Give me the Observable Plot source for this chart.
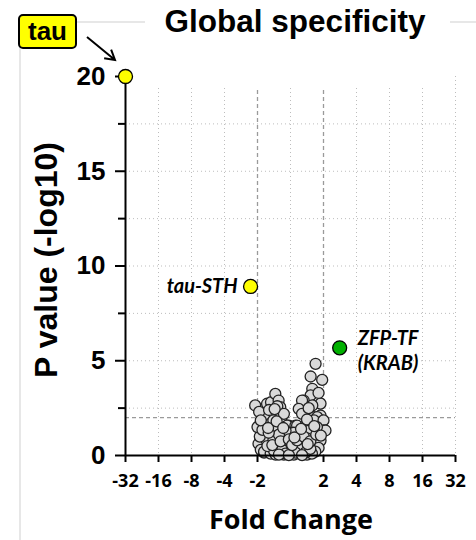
<!DOCTYPE html>
<html>
<head>
<meta charset="utf-8">
<script src="https://cdn.jsdelivr.net/npm/d3@7"></script>
<script src="https://cdn.jsdelivr.net/npm/@observablehq/plot@0.6"></script>
<style>
  html, body { margin: 0; padding: 0; background: #fff; }
  #chart { width: 476px; height: 540px; }
</style>
</head>
<body>
<div id="chart"></div>
<script>
// ---- data (x: log2 fold change, y: -log10 P) ----
const grayX = [
  -1.07,-0.71,-0.59,-0.46,-0.36,-0.31,-0.86,-0.72,-0.46,-0.87,-0.62,-0.52,-0.26,-0.77,-0.46,-0.97,-0.76,-0.72,-0.52,-0.36,-0.62,-0.16,-0.56,-0.93,-1.00,-0.95,-0.65,-0.40,-0.20,-0.90,-0.80,
  -0.05,-0.10,0.15,0.20,0.00,0.00,0.30,-0.20,0.10,-0.15,-0.35,0.25,0.15,-0.10,-0.40,
  0.76,0.61,0.96,0.66,0.61,0.40,0.35,0.91,0.66,0.25,0.45,0.35,0.91,0.71,0.81,0.45,0.71,1.00,1.00,1.06,0.66,0.70,0.66,0.91,0.80,0.55,0.50,0.35,0.85,0.75,0.55,0.85,0.50,
  -0.80,-0.60,-0.45,-0.30,-0.20,-0.10,0.00,0.10,0.20,0.30,0.40,0.50,0.55,-0.50,-0.25,0.05,0.25,0.65,-0.70,-0.15,0.15,0.45,-0.35,0.60,-0.05,0.35,
  -0.85,-0.66,-0.55,-0.30,-0.05,0.05,0.20,0.40,0.60,0.78,-0.90,-0.68,-0.42,-0.22,0.12,0.32,0.52,0.72,0.92,-0.48
];
const grayY = [
  2.64,2.73,2.81,3.25,2.90,2.55,2.11,2.11,2.11,1.67,1.67,1.85,1.76,1.23,1.32,0.62,0.90,0.79,0.79,0.35,0.35,0.44,0.37,1.00,1.50,2.30,2.40,2.60,2.20,0.30,0.15,
  1.58,1.58,1.58,1.58,1.06,0.44,1.16,1.00,1.20,1.30,1.10,0.90,0.60,0.70,0.50,
  4.84,4.17,3.99,3.52,3.17,2.90,2.90,2.74,2.64,2.46,2.20,2.20,2.11,2.02,2.02,1.58,1.85,1.85,1.32,1.32,1.06,1.16,0.53,0.79,1.50,1.30,0.90,0.70,0.40,0.20,2.50,3.30,1.90,
  0.20,0.10,0.05,0.15,0.05,0.25,0.10,0.05,0.20,0.10,0.30,0.05,0.20,0.25,0.30,0.35,0.40,0.10,0.50,0.10,0.15,0.15,0.05,0.35,0.02,0.02,
  1.35,1.20,0.55,0.75,0.85,0.55,0.80,1.00,0.75,1.10,1.85,1.45,1.80,1.45,0.95,1.40,0.60,1.55,1.05,2.45
];
const highlightNames = ["tau", "tau-STH", "ZFP-TF"];
const highlightX = [-5, -1.21, 1.49];
const highlightY = [20, 8.92, 5.68];
const highlightColors = ["#ffff00", "#ffff00", "#00b000"];
const labelNames = ["tau-STH", "ZFP-TF", "(KRAB)"];
const labelX = [-1.21, 1.49, 1.49];
const labelY = [8.92, 5.68, 5.68];

const xTickValues = [-5,-4,-3,-2,-1,1,2,3,4,5];
const xTickLabels = ["-32","-16","-8","-4","-2","2","4","8","16","32"];
const yTickValues = [0,5,10,15,20];
const yMinorTicks = [2.5,7.5,12.5,17.5];
const xGrid = [-4,-3,-2,0,2,3,4,5];
const yGrid = [2.5,5,7.5,10,12.5,15,17.5];
const thresholdX = [-1, 1];
const thresholdY = [2];

const gray = grayX.map((x, i) => ({x, y: grayY[i]}));
const highlights = highlightNames.map((n, i) => ({name: n, x: highlightX[i], y: highlightY[i], color: highlightColors[i]}));
const labels = labelNames.map((n, i) => ({name: n, x: labelX[i], y: labelY[i]}));
const xLabelOf = new Map(xTickValues.map((v, i) => [v, xTickLabels[i]]));

const calib = "'Open Sans', Lato, sans-serif";
const calibI = "Lato, 'Open Sans', sans-serif";
const arial = "'Liberation Sans', Arial, sans-serif";

const plot = Plot.plot({
  width: 476,
  height: 540,
  marginLeft: 125,
  marginRight: 21,
  marginTop: 76,
  marginBottom: 85,
  style: {background: "transparent", overflow: "visible"},
  x: {domain: [-5, 5]},
  y: {domain: [0, 20]},
  marks: [
    Plot.ruleX(xGrid, {stroke: "#bdbdbd", strokeWidth: 1, strokeDasharray: "1,3"}),
    Plot.ruleY(yGrid, {stroke: "#bdbdbd", strokeWidth: 1, strokeDasharray: "1,3"}),
    Plot.ruleX(thresholdX, {stroke: "#9a9a9a", strokeWidth: 1.3, strokeDasharray: "4,3"}),
    Plot.ruleY(thresholdY, {stroke: "#9a9a9a", strokeWidth: 1.3, strokeDasharray: "4,3"}),
    Plot.dot(gray, {x: "x", y: "y", r: 5.5, fill: "#d9d9d9", stroke: "#222", strokeWidth: 1.3}),
    Plot.ruleY([0], {stroke: "#000", strokeWidth: 2}),
    Plot.ruleX([-5], {stroke: "#000", strokeWidth: 2}),
    Plot.axisX(xTickValues, {tickSize: 7, strokeWidth: 2, tickPadding: 12, tickFormat: d => xLabelOf.get(d),
      fontSize: 18, fontWeight: "bold", fontFamily: calib, fill: "#000", label: null}),
    Plot.axisY(yTickValues, {tickSize: 10, strokeWidth: 2, tickPadding: 10, tickFormat: d => String(d),
      fontSize: 26, fontWeight: "bold", fontFamily: arial, fill: "#000", label: null}),
    Plot.axisY(yMinorTicks, {tickSize: 7, strokeWidth: 2, tickFormat: () => "", label: null}),
    Plot.dot(highlights, {x: "x", y: "y", r: 7, fill: "color", stroke: "#000", strokeWidth: 1.3}),
    Plot.text(labels.filter(d => d.name === "tau-STH"), {x: "x", y: "y", text: "name", textAnchor: "end", dx: -13,
      fontSize: 20, fontWeight: "bold", fontStyle: "italic", fontFamily: calibI, fill: "#000"}),
    Plot.text(labels.filter(d => d.name === "ZFP-TF"), {x: "x", y: "y", text: "name", textAnchor: "start", dx: 18, dy: -9,
      fontSize: 20, fontWeight: "bold", fontStyle: "italic", fontFamily: calibI, fill: "#000"}),
    Plot.text(labels.filter(d => d.name === "(KRAB)"), {x: "x", y: "y", text: "name", textAnchor: "start", dx: 18, dy: 16,
      fontSize: 20, fontWeight: "bold", fontStyle: "italic", fontFamily: calibI, fill: "#000"})
  ]
});

const svg = d3.select(plot);
// faint frame behind everything
svg.insert("line", ":first-child").attr("x1", 20).attr("y1", 22).attr("x2", 20).attr("y2", 540)
  .attr("stroke", "#cfcfcf").attr("stroke-width", 1);
svg.insert("line", ":first-child").attr("x1", 20).attr("y1", 22).attr("x2", 476).attr("y2", 22)
  .attr("stroke", "#cfcfcf").attr("stroke-width", 1);
// title box
svg.append("rect").attr("x", 145).attr("y", 0).attr("width", 305).attr("height", 88).attr("fill", "#fff");
svg.append("text").attr("x", 295).attr("y", 32).attr("text-anchor", "middle")
  .attr("font-family", arial).attr("font-weight", "bold").attr("font-size", 31.5).attr("fill", "#000")
  .text("Global specificity");
// axis titles
svg.append("text").attr("transform", "translate(46,260) rotate(-90)").attr("text-anchor", "middle")
  .attr("dominant-baseline", "central")
  .attr("font-family", arial).attr("font-weight", "bold").attr("font-size", 32).attr("fill", "#000")
  .text("P value (-log10)");
svg.append("text").attr("x", 291).attr("y", 529).attr("text-anchor", "middle")
  .attr("font-family", calib).attr("font-weight", "bold").attr("font-size", 27).attr("fill", "#000")
  .text("Fold Change");
// tau callout
svg.append("rect").attr("x", 19).attr("y", 15).attr("width", 57).attr("height", 33).attr("rx", 4)
  .attr("fill", "#ffff00").attr("stroke", "#000").attr("stroke-width", 2);
svg.append("text").attr("x", 47.5).attr("y", 40).attr("text-anchor", "middle")
  .attr("font-family", arial).attr("font-weight", "bold").attr("font-size", 26).attr("fill", "#000")
  .text("tau");
const a0 = [87, 37], a1 = [115, 60];
const dx = a1[0] - a0[0], dy = a1[1] - a0[1], len = Math.hypot(dx, dy);
const ux = dx / len, uy = dy / len, hl = 11, ang = Math.PI / 6;
const rot = (x, y, t) => [x * Math.cos(t) - y * Math.sin(t), x * Math.sin(t) + y * Math.cos(t)];
const h1 = rot(-ux, -uy, ang), h2 = rot(-ux, -uy, -ang);
svg.append("path")
  .attr("d", `M${a0[0]},${a0[1]}L${a1[0]},${a1[1]}M${a1[0] + h1[0] * hl},${a1[1] + h1[1] * hl}L${a1[0]},${a1[1]}L${a1[0] + h2[0] * hl},${a1[1] + h2[1] * hl}`)
  .attr("fill", "none").attr("stroke", "#000").attr("stroke-width", 2);

document.getElementById("chart").appendChild(plot);
</script>
</body>
</html>
